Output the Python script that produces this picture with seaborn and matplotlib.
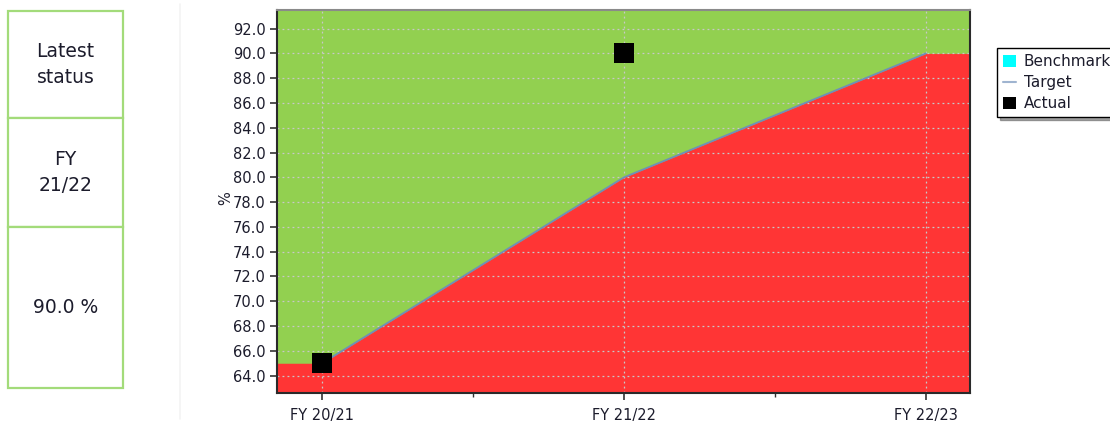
import numpy as np
import pandas as pd
import matplotlib
matplotlib.use("Agg")
import matplotlib.pyplot as plt
from matplotlib.patches import Rectangle, Patch
from matplotlib.lines import Line2D
import seaborn as sns

# ---- data ----
categories = ["FY 20/21", "FY 21/22", "FY 22/23"]
target = [65.0, 80.0, 90.0]
actual = [65.0, 90.0, np.nan]
y_ticks = [64.0, 66.0, 68.0, 70.0, 72.0, 74.0, 76.0, 78.0, 80.0, 82.0, 84.0, 86.0, 88.0, 90.0, 92.0]
status_labels = ["Latest\nstatus", "FY\n21/22", "90.0 %"]
legend_labels = ["Benchmark", "Target", "Actual"]

# ---- style ----
sns.set_style("white")
plt.rcParams['font.family'] = ['DejaVu Sans']

GREEN = "#92d050"
RED = "#ff3535"
LINE = "#6f8fb8"
TXT = "#1c1c2c"

fig = plt.figure(figsize=(11.10, 4.23), dpi=100)
ax = fig.add_axes([277/1110, 30/423, 693/1110, 383/423])

pos = np.arange(len(categories))
df = pd.DataFrame({"pos": pos, "cat": categories, "target": target, "actual": actual})

xlim = (-0.149, 2.146)
ylim = (62.6, 93.5)

# background fill: green above, red below target (flat beyond ends)
ax.set_facecolor(GREEN)
x_fill = np.concatenate([[xlim[0]], pos, [xlim[1]]])
y_fill = np.concatenate([[target[0]], target, [target[-1]]])
ax.fill_between(x_fill, ylim[0], y_fill, color=RED, linewidth=0, zorder=0.5)

sns.lineplot(data=df, x="pos", y="target", ax=ax, color=LINE, linewidth=1.3, zorder=2)
sns.scatterplot(data=df.dropna(), x="pos", y="actual", ax=ax, marker="s", s=190,
                color="black", edgecolor="black", linewidth=0, zorder=3)

ax.set_xlim(*xlim)
ax.set_ylim(*ylim)
ax.set_xticks(pos)
ax.set_xticklabels(categories)
ax.set_xticks([0.5, 1.5], minor=True)
ax.set_yticks(y_ticks)
ax.set_yticklabels([f"{v:.1f}" for v in y_ticks])
ax.set_xlabel("")
ax.set_ylabel("%", fontsize=10.5, color=TXT)
ax.yaxis.set_label_coords(-0.063, 0.51)

ax.set_axisbelow("line")
ax.grid(True, which="major", color="#c8c8c8", linestyle=(0, (1.5, 2.5)), linewidth=0.9)

ax.tick_params(axis="both", which="major", direction="out", length=5, width=1.2,
               color="#333333", labelsize=10.5, labelcolor=TXT, bottom=True, left=True)
ax.tick_params(axis="x", which="minor", direction="out", length=3, width=1.0,
               color="#333333", bottom=True)
ax.tick_params(axis="x", pad=6)
ax.tick_params(axis="y", pad=3)

for side in ["left", "right", "bottom"]:
    ax.spines[side].set_visible(True)
    ax.spines[side].set_color("#2a2a2a")
    ax.spines[side].set_linewidth(1.5)
ax.spines["top"].set_visible(True)
ax.spines["top"].set_color("#8a8a8a")
ax.spines["top"].set_linewidth(1.5)

# ---- legend ----
handles = [
    Patch(facecolor="#00ffff", edgecolor="none"),
    Line2D([0], [0], color="#9fb4d0", linewidth=1.5),
    Patch(facecolor="black", edgecolor="none"),
]
leg = fig.legend(handles, legend_labels, loc="upper left",
                 bbox_to_anchor=(997/1110, 1 - 48/423), fontsize=11,
                 frameon=True, fancybox=False, shadow=True, framealpha=1,
                 edgecolor="black", borderpad=0.4, labelspacing=0.4,
                 handlelength=0.85, handleheight=0.85, handletextpad=0.5,
                 borderaxespad=0)
for t in leg.get_texts():
    t.set_color(TXT)

# ---- left status panel ----
box_y = [(11, 118), (118, 227), (227, 388)]
for (y0, y1), lab in zip(box_y, status_labels):
    rect = Rectangle((8/1110, 1 - y1/423), (123-8)/1110, (y1-y0)/423,
                     transform=fig.transFigure, facecolor="white",
                     edgecolor="#a3db7a", linewidth=1.6)
    fig.patches.append(rect)
    fig.text((8+123)/2/1110, 1 - (y0+y1)/2/423, lab, ha="center", va="center",
             fontsize=13.5, color=TXT, linespacing=1.45)

fig.add_artist(Line2D([180/1110, 180/1110], [4/423, 419/423], color="#f3f3f3",
                      linewidth=1.2, transform=fig.transFigure))

fig.savefig("out.png", dpi=100)
